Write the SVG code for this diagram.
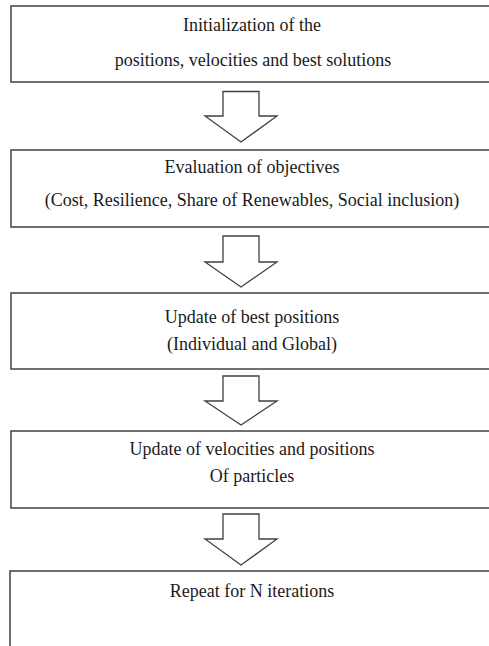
<svg xmlns="http://www.w3.org/2000/svg" width="489" height="646" viewBox="0 0 489 646">
<style>
.box{fill:#fff;stroke:#404040;stroke-width:1.5}
.arr{fill:#fff;stroke:#404040;stroke-width:1.3;stroke-linejoin:miter}
text{font-family:'Liberation Serif',serif;font-size:18px;fill:#1a1a1a;text-anchor:middle}
</style>
<rect width="489" height="646" fill="#fff"/>
<g id="n1"><rect class="box" x="11" y="6" width="490" height="76"/>
<text x="252" y="31">Initialization of the</text>
<text x="253" y="66">positions, velocities and best solutions</text></g>
<g id="n2"><rect class="box" x="11" y="150" width="490" height="77"/>
<text x="252" y="173">Evaluation of objectives</text>
<text x="252" y="206">(Cost, Resilience, Share of Renewables, Social inclusion)</text></g>
<g id="n3"><rect class="box" x="11" y="293" width="490" height="76"/>
<text x="252" y="323">Update of best positions</text>
<text x="252" y="350">(Individual and Global)</text></g>
<g id="n4"><rect class="box" x="11" y="431" width="490" height="77"/>
<text x="252" y="455">Update of velocities and positions</text>
<text x="252" y="482">Of particles</text></g>
<g id="n5"><rect class="box" x="10" y="571" width="490" height="90"/>
<text x="252" y="597">Repeat for N iterations</text></g>
<g id="connectors">
<path class="arr" d="M223,91.5 H259 V116 H277 L241,142 L205,116 H223 Z"/>
<path class="arr" d="M223,236 H259 V262 H277 L241,287 L205,262 H223 Z"/>
<path class="arr" d="M223,376 H259 V401 H277 L241,425 L205,401 H223 Z"/>
<path class="arr" d="M223,514 H259 V539 H277 L241,565 L205,539 H223 Z"/>
</g>
</svg>
